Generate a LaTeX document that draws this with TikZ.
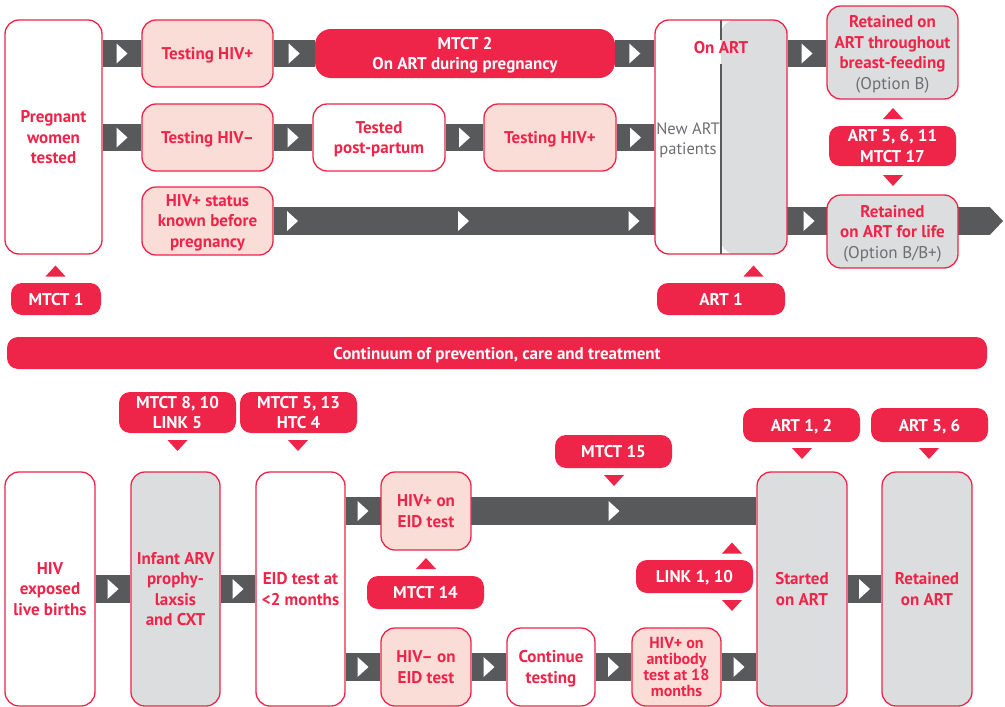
\documentclass[tikz,border=0pt]{standalone}
\usepackage{fontspec}
\setmainfont{PT Sans}
\usetikzlibrary{calc}
\definecolor{hred}{HTML}{EE2449}
\definecolor{hpink}{HTML}{FBDDD8}
\definecolor{hgray}{HTML}{DCDDDE}
\definecolor{hdark}{HTML}{58595B}
\definecolor{hgtext}{HTML}{6D6E71}
\pgfdeclarelayer{back}
\pgfdeclarelayer{bg}
\pgfsetlayers{back,bg,main}
\tikzset{
  base/.style={inner sep=0pt, align=center, text depth=0pt, font=\fontsize{17}{20.5}\selectfont\bfseries},
  box/.style={base, rounded corners=14pt, draw=hred, line width=1.3pt, fill=white, text=hred},
  pbox/.style={box, fill=hpink},
  gbox/.style={box, fill=hgray},
  badge/.style={base, rounded corners=11pt, fill=hred, text=white},
  band/.style={draw=hdark, line width=27.5pt},
  pics/rt/.style={code={\fill[white] (-5.5,-10) -- (5.5,0) -- (-5.5,10) -- cycle;}},
  pics/upt/.style={code={\fill[hred] (-10,5.5) -- (0,-5.5) -- (10,5.5) -- cycle;}},
  pics/dnt/.style={code={\fill[hred] (-10,-5.5) -- (0,5.5) -- (10,-5.5) -- cycle;}},
}
\begin{document}
\begin{tikzpicture}[x=1pt,y=-1pt]
\begin{pgfonlayer}{back}
\useasboundingbox[fill=white] (0,0) rectangle (1005,707);
\end{pgfonlayer}

% ---------- top section ----------
\node[box, minimum width=97pt, minimum height=234pt] (preg) at (53.5,137) {Pregnant\\women\\tested};
\node[pbox, minimum width=131pt, minimum height=67pt] (t1) at (207.5,53.5) {Testing HIV+};
\node[pbox, minimum width=131pt, minimum height=67pt] (t2) at (207.5,137.5) {Testing HIV–};
\node[pbox, minimum width=131pt, minimum height=68pt] (t3) at (207.5,221) {HIV+ status\\known before\\pregnancy};
\node[badge, rounded corners=16pt, minimum width=300pt, minimum height=49pt] (mtct2) at (465,53.5) {MTCT 2\\On ART during pregnancy};
\node[box, minimum width=132pt, minimum height=67pt] (tpp) at (379,137.5) {Tested\\post-partum};
\node[pbox, minimum width=132pt, minimum height=67pt] (t4) at (550,137.5) {Testing HIV+};
\node[box, minimum width=132pt, minimum height=234pt,
  path picture={\fill[hgray] (path picture bounding box.north) rectangle (path picture bounding box.south east);
    \draw[hdark, line width=1.1pt] (path picture bounding box.north) -- ++(0,20) ++(0,24) -- (path picture bounding box.south);}] (onart) at (721,137) {};
\node[base, text=hred] (onartlbl) at (721,47) {On ART};
\node[base, font=\fontsize{16.5}{20.5}\selectfont, text=hgtext] (newart) at (688,138.5) {New ART\\patients};
\node[gbox, minimum width=131pt, minimum height=93pt] (ret1) at (892.5,52.5) {Retained on\\ART throughout\\breast-feeding\\{\mdseries\color{hgtext}(Option B)}};
\node[badge, minimum width=127pt, minimum height=40pt] (b5611) at (892.5,146) {ART 5, 6, 11\\MTCT 17};
\node[gbox, minimum width=131pt, minimum height=73pt] (ret2) at (892.5,231.5) {Retained\\on ART for life\\{\mdseries\color{hgtext}(Option B/B+)}};
\node[badge, minimum width=128pt, minimum height=32pt] (art1) at (721,299) {ART 1};
\node[badge, minimum width=90pt, minimum height=32pt] (mtct1) at (56,299) {MTCT 1};
\pic at (893,113.5) {upt};
\pic at (893,180.5) {dnt};
\pic at (753.5,271) {upt};
\pic at (55.5,271) {upt};

% ---------- continuum bar ----------
\node[badge, rounded corners=11pt, minimum width=980pt, minimum height=32pt] (cont) at (497,353) {Continuum of prevention, care and treatment};

% ---------- bottom section ----------
\node[box, minimum width=90pt, minimum height=234pt] (hivexp) at (50,589) {HIV\\exposed\\live births};
\node[gbox, minimum width=89pt, minimum height=234pt] (infant) at (175.5,589) {Infant ARV\\prophy-\\laxsis\\and CXT};
\node[box, minimum width=89pt, minimum height=234pt] (eid) at (300.5,589) {EID test at\\<2 months};
\node[badge, minimum width=117pt, minimum height=41pt] (b810) at (177.5,412.5) {MTCT 8, 10\\LINK 5};
\node[badge, minimum width=117pt, minimum height=41pt] (b513) at (298.5,412.5) {MTCT 5, 13\\HTC 4};
\node[pbox, minimum width=90pt, minimum height=78pt] (hivpos) at (426,511) {HIV+ on\\EID test};
\node[badge, minimum width=117pt, minimum height=33pt] (m15) at (613.5,451.5) {MTCT 15};
\node[badge, minimum width=117pt, minimum height=33pt] (m14) at (425.5,592.5) {MTCT 14};
\node[pbox, minimum width=90pt, minimum height=78pt] (hivneg) at (426,667) {HIV– on\\EID test};
\node[box, minimum width=88pt, minimum height=78pt] (conttest) at (551,667) {Continue\\testing};
\node[pbox, minimum width=89pt, minimum height=78pt, font=\fontsize{16}{16}\selectfont\bfseries] (hivab) at (676.5,667) {HIV+ on\\antibody\\test at 18\\months};
\node[badge, minimum width=117pt, minimum height=33pt] (link) at (694.5,576.5) {LINK 1, 10};
\node[gbox, minimum width=90pt, minimum height=234pt] (started) at (802,589) {Started\\on ART};
\node[gbox, minimum width=90pt, minimum height=234pt] (retart) at (927,589) {Retained\\on ART};
\node[badge, minimum width=117pt, minimum height=34pt] (a12) at (801.5,425) {ART 1, 2};
\node[badge, minimum width=117pt, minimum height=34pt] (a56) at (929.5,425) {ART 5, 6};
\pic at (177.5,445.5) {dnt};
\pic at (298,445.5) {dnt};
\pic at (614,480.5) {dnt};
\pic at (426,563.5) {upt};
\pic at (732,548) {upt};
\pic at (732,605.5) {dnt};
\pic at (802,453.5) {dnt};
\pic at (929,453.5) {dnt};

\coordinate (endr) at (990,221);

\begin{pgfonlayer}{bg}
% row 1
\draw[band] (preg.east |- t1.west) -- (t1.west);
\draw[band] (t1.east) -- (mtct2.west);
\draw[band] (mtct2.east) -- (onart.west |- mtct2.east);
\draw[band] (onart.east |- t1.east) -- (ret1.west |- t1.east);
\pic at ($(preg.east |- t1.west)!.5!(t1.west)$) {rt};
\pic at ($(t1.east)!.5!(mtct2.west)$) {rt};
\pic at ($(mtct2.east)!.5!(onart.west |- mtct2.east)$) {rt};
\pic at ($(onart.east |- t1.east)!.5!(ret1.west |- t1.east)$) {rt};
% row 2
\draw[band] (preg.east |- t2.west) -- (t2.west);
\draw[band] (t2.east) -- (tpp.west);
\draw[band] (tpp.east) -- (t4.west);
\draw[band] (t4.east) -- (onart.west |- t4.east);
\pic at ($(preg.east |- t2.west)!.5!(t2.west)$) {rt};
\pic at ($(t2.east)!.5!(tpp.west)$) {rt};
\pic at ($(tpp.east)!.5!(t4.west)$) {rt};
\pic at ($(t4.east)!.5!(onart.west |- t4.east)$) {rt};
% row 3
\draw[band] (t3.east) -- (endr);
\fill[hdark] ($(endr)+(0,-13.75)$) -- ($(endr)+(13,0)$) -- ($(endr)+(0,13.75)$) -- cycle;
\pic at (292.5,221) {rt};
\pic at (463.5,221) {rt};
\pic at (634,221) {rt};
\pic at (809,221) {rt};
% bottom middle row
\draw[band] (hivexp.east) -- (infant.west);
\draw[band] (infant.east) -- (eid.west);
\draw[band] (started.east) -- (retart.west);
\pic at ($(hivexp.east)!.5!(infant.west)$) {rt};
\pic at ($(infant.east)!.5!(eid.west)$) {rt};
\pic at ($(started.east)!.5!(retart.west)$) {rt};
% bottom upper row
\draw[band] (eid.east |- hivpos.west) -- (started.west |- hivpos.east);
\pic at ($(eid.east |- hivpos.west)!.5!(hivpos.west)$) {rt};
\pic at ($(hivpos.east)!.5!(started.west |- hivpos.east)$) {rt};
% bottom lower row
\draw[band] (eid.east |- hivneg.west) -- (hivneg.west);
\draw[band] (hivneg.east) -- (conttest.west);
\draw[band] (conttest.east) -- (hivab.west);
\draw[band] (hivab.east) -- (started.west |- hivab.east);
\pic at ($(eid.east |- hivneg.west)!.5!(hivneg.west)$) {rt};
\pic at ($(hivneg.east)!.5!(conttest.west)$) {rt};
\pic at ($(conttest.east)!.5!(hivab.west)$) {rt};
\pic at ($(hivab.east)!.5!(started.west |- hivab.east)$) {rt};
\end{pgfonlayer}
\end{tikzpicture}
\end{document}
